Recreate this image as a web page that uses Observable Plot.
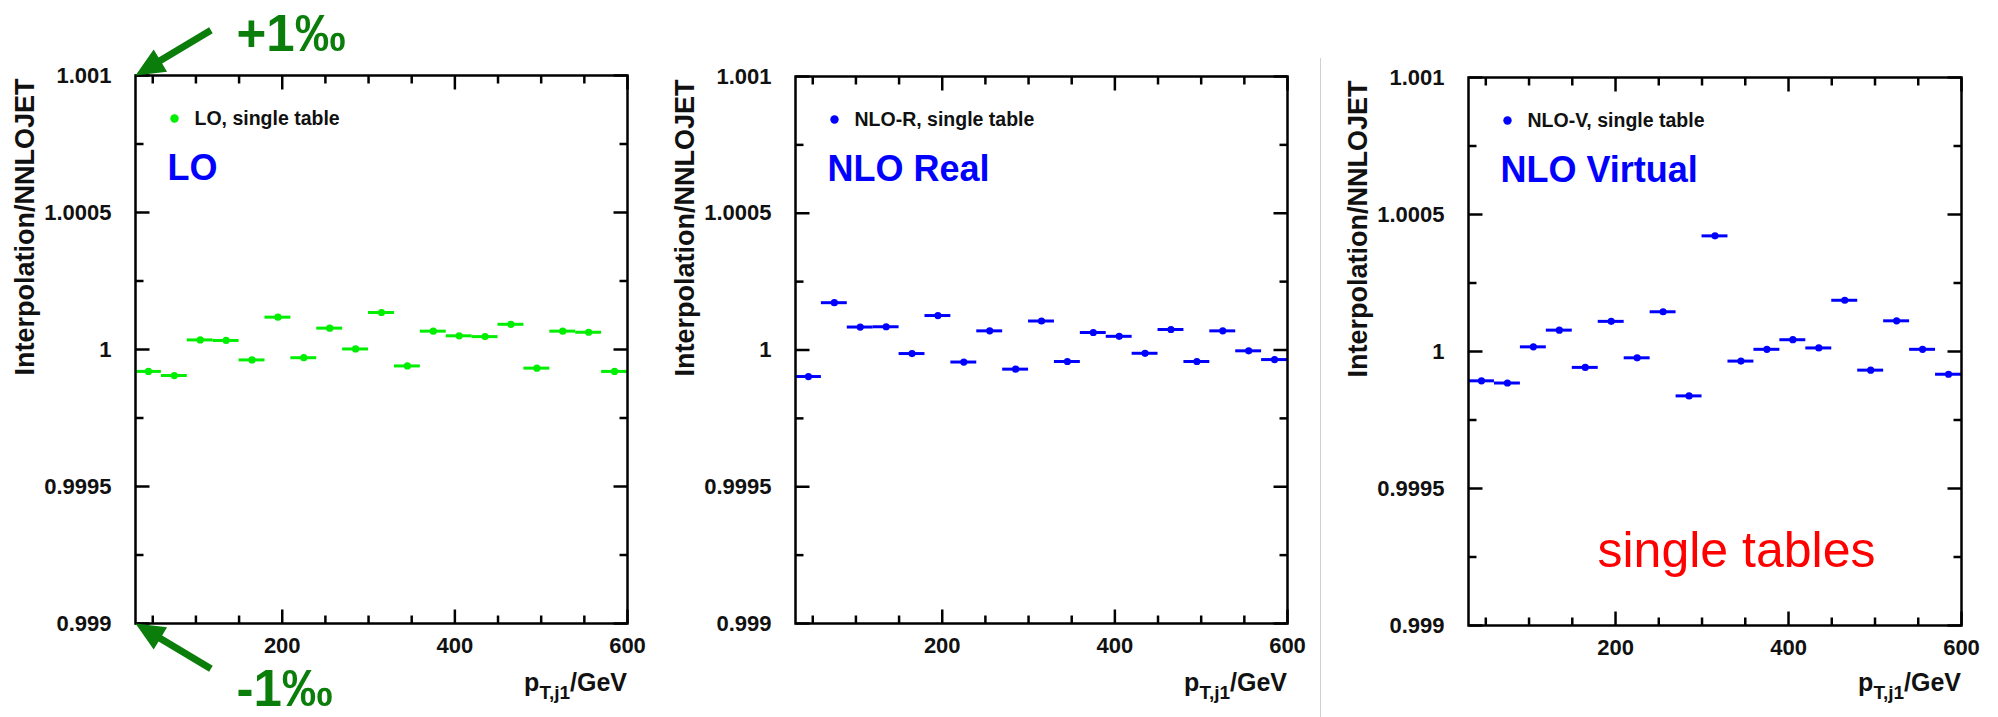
<!DOCTYPE html>
<html><head><meta charset="utf-8">
<script src="https://cdn.jsdelivr.net/npm/d3@7"></script>
<script src="https://cdn.jsdelivr.net/npm/@observablehq/plot@0.6"></script>
<style>
html,body{margin:0;padding:0;background:#fff;}
#wrap{position:relative;width:1998px;height:717px;overflow:hidden;background:#fff;}
#wrap svg{position:absolute;top:0;}
.divider{position:absolute;left:1320px;top:58px;width:1px;height:659px;background:#d0d0d0;}
</style></head><body><div id="wrap"><div class="divider"></div></div>
<script>
// pT,j1 bin edges (GeV)
const binEdges = [30, 60, 90, 120, 150, 180, 210, 240, 270, 300, 330, 360, 390, 420, 450, 480, 510, 540, 570, 600];
// Interpolation / NNLOJET ratios per bin
const loRatio  = [0.99992, 0.999905, 1.000035, 1.000033, 0.999962, 1.000118, 0.99997, 1.000078, 1.000002, 1.000135,
                  0.99994, 1.000067, 1.00005, 1.000047, 1.000092, 0.999932, 1.000067, 1.000063, 0.99992];
const nloRRatio = [0.999903, 1.000173, 1.000084, 1.000085, 0.999987, 1.000126, 0.999956, 1.00007, 0.99993, 1.000106,
                   0.999958, 1.000064, 1.00005, 0.999988, 1.000075, 0.999958, 1.00007, 0.999997, 0.999965];
const nloVRatio = [0.999893, 0.999885, 1.000017, 1.000078, 0.999942, 1.00011, 0.999977, 1.000145, 0.999838, 1.000422,
                   0.999965, 1.000008, 1.000043, 1.000013, 1.000187, 0.999932, 1.000112, 1.000008, 0.999917];
// axis ticks
const xMajorTicks = [200, 400, 600];
const xMinorTicks = [50, 100, 150, 250, 300, 350, 450, 500, 550];
const yMajorTicks = [0.999, 0.9995, 1, 1.0005, 1.001];
const yMinorTicks = [0.99925, 0.99975, 1.00025, 1.00075];
const xDomain = [30, 600];
const yDomain = [0.999, 1.001];
const yTitle = "Interpolation/NNLOJET";

const FONT = "'Liberation Sans', Arial, Helvetica, sans-serif";
const DARKGREEN = "#0a7d0a";

const panels = [
  {values: loRatio, color: "#00ee00", legend: "LO, single table", label: "LO",
   left: 0, width: 660, mt: 75, mb: 94, ml: 135, mr: 33, notes: true},
  {values: nloRRatio, color: "#0000ff", legend: "NLO-R, single table", label: "NLO Real",
   left: 660, width: 660, mt: 76, mb: 94, ml: 135, mr: 33},
  {values: nloVRatio, color: "#0000ff", legend: "NLO-V, single table", label: "NLO Virtual",
   left: 1330, width: 668, mt: 77, mb: 92, ml: 138, mr: 37, red: "single tables"}
];

const tickShape = {draw(ctx, l) { ctx.moveTo(0, 0); ctx.lineTo(0, -l); }};
const arrowShape = {draw(ctx, l) {
  const h = 29, w = 13, s = 3.5;
  ctx.moveTo(-s, 0); ctx.lineTo(-s, -l + h); ctx.lineTo(-w, -l + h); ctx.lineTo(0, -l);
  ctx.lineTo(w, -l + h); ctx.lineTo(s, -l + h); ctx.lineTo(s, 0); ctx.closePath();
}};

function tickMarks(values, axis, len) {
  const common = {length: len, anchor: "start", shape: tickShape, stroke: "black", strokeWidth: 2.5, strokeLinecap: "butt"};
  if (axis === "x") return [
    Plot.vector(values, {...common, x: d => d, frameAnchor: "bottom", rotate: 0}),
    Plot.vector(values, {...common, x: d => d, frameAnchor: "top", rotate: 180})
  ];
  return [
    Plot.vector(values, {...common, y: d => d, frameAnchor: "left", rotate: 90}),
    Plot.vector(values, {...common, y: d => d, frameAnchor: "right", rotate: 270})
  ];
}

const wrap = document.getElementById("wrap");
for (const p of panels) {
  const data = p.values.map((v, i) => ({lo: binEdges[i], hi: binEdges[i + 1], c: (binEdges[i] + binEdges[i + 1]) / 2, v}));
  const marks = [
    Plot.ruleY(data, {x1: "lo", x2: "hi", y: "v", stroke: p.color, strokeWidth: 3}),
    Plot.dot(data, {x: "c", y: "v", r: 3.6, fill: p.color}),
    Plot.frame({stroke: "black", strokeWidth: 2.5}),
    ...tickMarks(xMajorTicks, "x", 14), ...tickMarks(xMinorTicks, "x", 8),
    ...tickMarks(yMajorTicks, "y", 14), ...tickMarks(yMinorTicks, "y", 8),
    Plot.axisX({ticks: xMajorTicks, tickSize: 0, tickPadding: 14, tickFormat: d => String(d), label: null,
                fontSize: 22, fontWeight: "bold", fontFamily: FONT, fill: "#111"}),
    Plot.axisY({ticks: yMajorTicks, tickSize: 0, tickPadding: 24, tickFormat: d => String(+d.toFixed(5)), label: null,
                fontSize: 22, fontWeight: "bold", fontFamily: FONT, fill: "#111"}),
    Plot.text([yTitle], {text: d => d, frameAnchor: "top-left", rotate: -90, textAnchor: "end", lineAnchor: "bottom",
                dx: -102, dy: 3, fontSize: 27, fontWeight: "bold", fontFamily: FONT, fill: "#111"}),
    Plot.dot([p.legend], {frameAnchor: "top-left", dx: 39, dy: 43, r: 4.2, fill: p.color}),
    Plot.text([p.legend], {text: d => d, frameAnchor: "top-left", dx: 59, dy: 49, textAnchor: "start", lineAnchor: "bottom",
                fontSize: 19.5, fontWeight: "bold", fontFamily: FONT, fill: "#111"}),
    Plot.text([p.label], {text: d => d, frameAnchor: "top-left", dx: 32, dy: 104, textAnchor: "start", lineAnchor: "bottom",
                fontSize: 36, fontWeight: "bold", fontFamily: FONT, fill: "#0000ff"})
  ];
  if (p.notes) {
    marks.push(
      Plot.vector(["+"], {frameAnchor: "top-left", anchor: "end", length: 88, rotate: 239, shape: arrowShape, fill: DARKGREEN, stroke: "none"}),
      Plot.vector(["-"], {frameAnchor: "bottom-left", anchor: "end", length: 88, rotate: 301, shape: arrowShape, fill: DARKGREEN, stroke: "none"}),
      Plot.text(["+1\u2030"], {text: d => d, frameAnchor: "top-left", dx: 101, dy: -25, textAnchor: "start", lineAnchor: "bottom",
                fontSize: 51, fontWeight: "bold", fontFamily: FONT, fill: DARKGREEN}),
      Plot.text(["-1\u2030"], {text: d => d, frameAnchor: "bottom-left", dx: 101, dy: 82, textAnchor: "start", lineAnchor: "bottom",
                fontSize: 51, fontWeight: "bold", fontFamily: FONT, fill: DARKGREEN})
    );
  }
  if (p.red) {
    marks.push(Plot.text([p.red], {text: d => d, frameAnchor: "bottom-left", dx: 129, dy: -59, textAnchor: "start", lineAnchor: "bottom",
                fontSize: 50, fontFamily: FONT, fill: "#ff0000"}));
  }
  const svg = Plot.plot({
    width: p.width, height: 717,
    marginLeft: p.ml, marginRight: p.mr, marginTop: p.mt, marginBottom: p.mb,
    x: {domain: xDomain}, y: {domain: yDomain},
    style: {fontFamily: FONT, background: "transparent", overflow: "visible", color: "#111"},
    marks
  });
  svg.style.left = p.left + "px";
  // x-axis title with subscript
  const t = d3.select(svg).append("text")
    .attr("x", p.width - p.mr).attr("y", 691).attr("text-anchor", "end")
    .attr("font-family", FONT).attr("font-weight", "bold").attr("font-size", 25).attr("fill", "#111");
  t.append("tspan").text("p");
  t.append("tspan").attr("font-size", 19).attr("dy", 8).text("T,j1");
  t.append("tspan").attr("dy", -8).text("/GeV");
  wrap.appendChild(svg);
}
</script>
</body></html>
